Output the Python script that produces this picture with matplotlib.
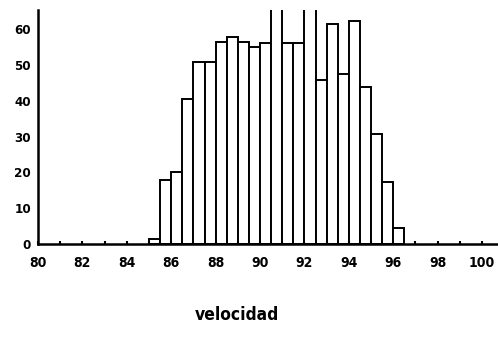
import matplotlib
matplotlib.use("Agg")
import matplotlib.pyplot as plt
import numpy as np

# Histogram of speeds, 0.5-wide classes
bin_left = [85.0, 85.5, 86.0, 86.5, 87.0, 87.5, 88.0, 88.5, 89.0, 89.5, 90.0,
            90.5, 91.0, 91.5, 92.0, 92.5, 93.0, 93.5, 94.0, 94.5, 95.0, 95.5, 96.0]
counts = [1.4, 17.8, 20.0, 40.6, 50.7, 50.7, 56.3, 57.9, 56.3, 55.1, 56.0,
          70.0, 56.0, 56.0, 70.0, 45.8, 61.4, 47.5, 62.3, 43.8, 30.7, 17.3, 4.6]
bin_width = 0.5

x_ticks = [80, 82, 84, 86, 88, 90, 92, 94, 96, 98, 100]
x_labels = ["80", "82", "84", "86", "88", "90", "92", "94", "96", "98", "100"]
y_ticks = [0, 10, 20, 30, 40, 50, 60]
y_labels = ["0", "10", "20", "30", "40", "50", "60"]
x_title = "velocidad"

fig = plt.figure(figsize=(4.98, 3.37), dpi=100)
ax = fig.add_axes([0.0763, 0.276, 0.9237, 0.694])

ax.bar(bin_left, counts, width=bin_width, align="edge",
       facecolor="white", edgecolor="black", linewidth=1.4)

ax.set_xlim(80, 100.72)
ax.set_ylim(0, 65.3)

for side in ("top", "right"):
    ax.spines[side].set_visible(False)
for side in ("left", "bottom"):
    ax.spines[side].set_linewidth(1.8)

ax.set_xticks(x_ticks)
ax.set_xticklabels(x_labels, fontsize=10, fontweight="bold", family="DejaVu Sans",
                   fontstretch="condensed")
ax.set_xticks(np.arange(81, 101, 2), minor=True)
ax.tick_params(axis="x", which="both", direction="in", length=2.5, width=1.5, pad=8.5)

ax.set_yticks(y_ticks)
ax.set_yticklabels(y_labels, fontsize=9.5, fontweight="bold", family="DejaVu Sans",
                   fontstretch="condensed")
ax.tick_params(axis="y", which="major", length=0, pad=5)
ax.set_yticks([60], minor=True)
ax.tick_params(axis="y", which="minor", direction="in", length=4, width=1.5)

fig.text(0.476, 0.04, x_title, ha="center", va="bottom",
         fontsize=12.5, fontweight="bold", family="DejaVu Sans", fontstretch="condensed")

fig.savefig("out.png", dpi=100)
